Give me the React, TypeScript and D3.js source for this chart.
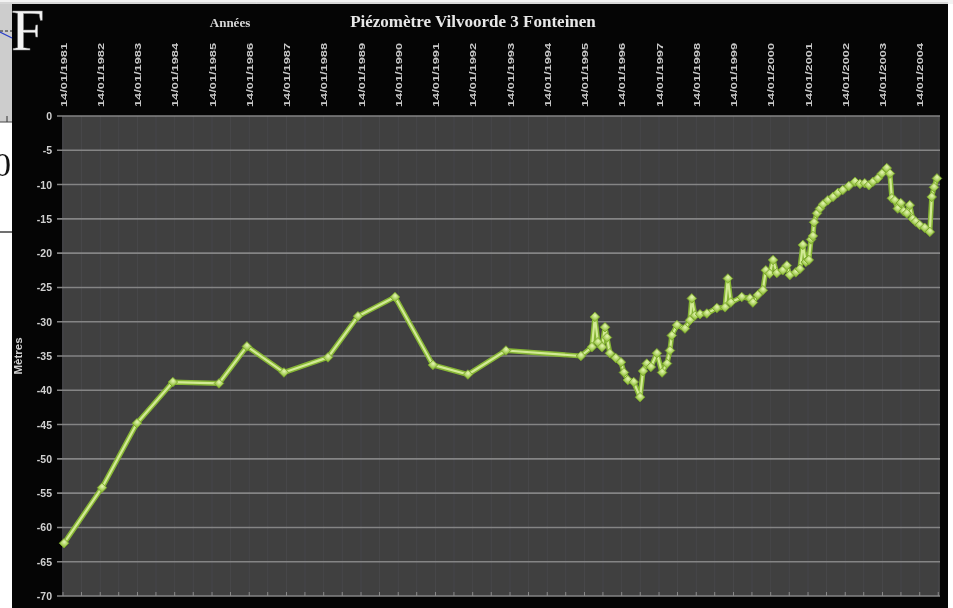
import React from "react";
import * as d3 from "d3";

const titleText = "Piézomètre Vilvoorde 3 Fonteinen";
const xAxisTitle = "Années";
const yAxisTitle = "Mètres";

const yearLabels = [
  "14/01/1981", "14/01/1982", "14/01/1983", "14/01/1984", "14/01/1985", "14/01/1986",
  "14/01/1987", "14/01/1988", "14/01/1989", "14/01/1990", "14/01/1991", "14/01/1992",
  "14/01/1993", "14/01/1994", "14/01/1995", "14/01/1996", "14/01/1997", "14/01/1998",
  "14/01/1999", "14/01/2000", "14/01/2001", "14/01/2002", "14/01/2003", "14/01/2004",
];

const yTicks = [0, -5, -10, -15, -20, -25, -30, -35, -40, -45, -50, -55, -60, -65, -70];

const dates = [
  "1981-01-24", "1982-01-31", "1983-01-09", "1983-12-27", "1985-03-23", "1985-12-22",
  "1986-12-20", "1988-02-25", "1988-12-15", "1989-12-13", "1990-12-20", "1991-11-28",
  "1992-12-05", "1994-12-10", "1995-03-28", "1995-04-26", "1995-05-26", "1995-07-05",
  "1995-08-03", "1995-08-22", "1995-09-20", "1995-11-17", "1996-01-07", "1996-02-05",
  "1996-03-14", "1996-05-11", "1996-07-12", "1996-08-10", "1996-09-16", "1996-10-26",
  "1996-12-24", "1997-02-13", "1997-04-02", "1997-05-01", "1997-05-19", "1997-07-09",
  "1997-09-25", "1997-11-13", "1997-12-01", "1998-01-01", "1998-02-20", "1998-04-28",
  "1998-08-04", "1998-10-23", "1998-11-20", "1998-12-19", "1999-04-05", "1999-06-24",
  "1999-07-23", "1999-09-09", "1999-10-29", "1999-11-27", "2000-01-04", "2000-02-06",
  "2000-03-14", "2000-05-11", "2000-06-20", "2000-07-19", "2000-09-16", "2000-10-26",
  "2000-11-24", "2000-12-23", "2001-01-22", "2001-02-13", "2001-03-03", "2001-03-14",
  "2001-04-12", "2001-05-11", "2001-06-09", "2001-07-27", "2001-09-16", "2001-11-03",
  "2001-12-20", "2002-02-18", "2002-04-20", "2002-06-07", "2002-07-24", "2002-09-02",
  "2002-10-12", "2002-11-29", "2003-01-08", "2003-02-25", "2003-03-28", "2003-04-16",
  "2003-05-15", "2003-06-13", "2003-07-12", "2003-08-10", "2003-09-09", "2003-10-08",
  "2003-11-06", "2003-12-05", "2004-01-14", "2004-03-03", "2004-04-22", "2004-05-11",
  "2004-06-02", "2004-07-01",
];

const levels = [
  -62.3, -54.2, -44.8, -38.8, -39.0, -33.6,
  -37.4, -35.2, -29.2, -26.4, -36.3, -37.7,
  -34.2, -35.0, -33.7, -29.3, -33.0, -33.7,
  -30.8, -32.3, -34.6, -35.3, -35.9, -37.4,
  -38.5, -38.8, -41.0, -37.2, -36.1, -36.6,
  -34.6, -37.4, -36.1, -34.2, -32.0, -30.5,
  -31.0, -29.8, -26.6, -29.1, -28.9, -28.8,
  -28.0, -27.9, -23.7, -27.2, -26.4, -26.6,
  -27.2, -26.1, -25.4, -22.5, -23.0, -21.0,
  -22.9, -22.5, -21.8, -23.2, -22.8, -22.3,
  -18.8, -21.3, -21.0, -18.0, -17.5, -15.5,
  -14.2, -13.5, -12.9, -12.3, -11.8, -11.2,
  -10.8, -10.2, -9.6, -9.9, -9.8, -10.1,
  -9.6, -9.1, -8.4, -7.6, -8.4, -12.0,
  -12.3, -13.5, -12.7, -13.9, -14.2, -13.0,
  -15.0, -15.4, -15.9, -16.3, -16.9, -11.8,
  -10.4, -9.1,
];

export default function App() {
  const W = 953;
  const H = 608;
  const plot = { left: 62, right: 940, top: 116, bottom: 596 };

  const parseISO = d3.timeParse("%Y-%m-%d");
  const parseLabel = d3.timeParse("%d/%m/%Y");

  const x = d3
    .scaleTime()
    .domain([new Date(1981, 0, 4), new Date(2004, 6, 31)])
    .range([plot.left, plot.right]);
  const y = d3.scaleLinear().domain([-70, 0]).range([plot.bottom, plot.top]);

  const data = dates.map((d, i) => ({ date: parseISO(d) as Date, v: levels[i] }));
  const line = d3
    .line<{ date: Date; v: number }>()
    .x((d) => x(d.date))
    .y((d) => y(d.v));
  const pathD = line(data) || "";

  const labelDates = yearLabels.map((s) => parseLabel(s) as Date);
  const minorDates: Date[] = [];
  labelDates.forEach((d) => {
    minorDates.push(d);
    minorDates.push(d3.timeMonth.offset(d, 6));
  });

  const diamond = d3.symbol(d3.symbolSquare, 46)() || "";

  return (
    <svg
      width={W}
      height={H}
      style={{ position: "absolute", left: 0, top: 0, display: "block" }}
    >
      <defs>
        <filter id="soft" x="-5%" y="-5%" width="110%" height="110%">
          <feGaussianBlur stdDeviation="0.6" />
        </filter>
        <radialGradient id="mk" cx="40%" cy="35%" r="65%">
          <stop offset="0%" stopColor="#e6f6b4" />
          <stop offset="100%" stopColor="#97c443" />
        </radialGradient>
      </defs>

      <rect x={0} y={0} width={W} height={H} fill="#ffffff" />
      {/* outer black chart area */}
      <rect x={12} y={4} width={936} height={H - 4} fill="#050505" />

      <g filter="url(#soft)">
        {/* plot area */}
        <rect
          x={plot.left}
          y={plot.top}
          width={plot.right - plot.left}
          height={plot.bottom - plot.top}
          fill="#3f3f41"
        />
        {/* faint vertical lines */}
        {minorDates.map((d, i) => (
          <line
            key={"v" + i}
            x1={x(d)}
            x2={x(d)}
            y1={plot.top}
            y2={plot.bottom}
            stroke="#474749"
            strokeWidth={1}
          />
        ))}
        {/* horizontal grid */}
        {yTicks.map((t) => (
          <line
            key={"g" + t}
            x1={plot.left - 5}
            x2={plot.right}
            y1={y(t)}
            y2={y(t)}
            stroke="#858585"
            strokeWidth={1.6}
          />
        ))}
        {/* minor ticks at bottom */}
        {minorDates.map((d, i) => (
          <line
            key={"m" + i}
            x1={x(d)}
            x2={x(d)}
            y1={plot.bottom}
            y2={plot.bottom - 4}
            stroke="#8a8a8a"
            strokeWidth={1}
          />
        ))}

        {/* y tick labels */}
        {yTicks.map((t) => (
          <text
            key={"yl" + t}
            x={52}
            y={y(t) + 4}
            textAnchor="end"
            fontFamily="Liberation Sans, Arial, sans-serif"
            fontWeight="bold"
            fontSize={10.5}
            fill="#d0d0d0"
          >
            {t}
          </text>
        ))}
        <text
          transform={`translate(22,${356}) rotate(-90)`}
          textAnchor="middle"
          fontFamily="Liberation Sans, Arial, sans-serif"
          fontWeight="bold"
          fontSize={11.5}
          fill="#d0d0d0"
        >
          {yAxisTitle}
        </text>

        {/* x labels at top */}
        {labelDates.map((d, i) => (
          <text
            key={"xl" + i}
            transform={`translate(${x(d) + 3.5},107) rotate(-90)`}
            textAnchor="start"
            fontFamily="Liberation Sans, Arial, sans-serif"
            fontWeight="bold"
            fontSize={9.5}
            textLength={64}
            lengthAdjust="spacingAndGlyphs"
            fill="#c8c8c8"
          >
            {yearLabels[i]}
          </text>
        ))}

        {/* titles */}
        <text
          x={473}
          y={27}
          textAnchor="middle"
          fontFamily="Liberation Serif, Times New Roman, serif"
          fontWeight="bold"
          fontSize={17}
          fill="#e8e8e8"
        >
          {titleText}
        </text>
        <text
          x={230}
          y={27}
          textAnchor="middle"
          fontFamily="Liberation Serif, Times New Roman, serif"
          fontWeight="bold"
          fontSize={13}
          fill="#d8d8d8"
        >
          {xAxisTitle}
        </text>

        {/* series */}
        <path d={pathD} fill="none" stroke="#86b534" strokeWidth={5.2} strokeLinejoin="round" />
        <path d={pathD} fill="none" stroke="#d2ea95" strokeWidth={2.2} strokeLinejoin="round" />
        {data.map((d, i) => (
          <path
            key={"p" + i}
            d={diamond}
            transform={`translate(${x(d.date)},${y(d.v)}) rotate(45)`}
            fill="url(#mk)"
            stroke="#7aa52a"
            strokeWidth={0.8}
          />
        ))}
      </g>

      {/* top-left scanned overlay */}
      <rect x={0} y={0} width={12} height={122} fill="#cdcdcd" />
      <line x1={0} y1={31} x2={12} y2={31} stroke="#222" strokeWidth={1} strokeDasharray="3,2" />
      <line x1={0} y1={32} x2={12} y2={38} stroke="#2a3fc8" strokeWidth={1.2} />
      <line x1={7} y1={116} x2={7} y2={122} stroke="#333" strokeWidth={1} />
      <line x1={0} y1={122} x2={12} y2={122} stroke="#444" strokeWidth={1} />
      <line x1={0} y1={232} x2={12} y2={232} stroke="#111" strokeWidth={1.2} />
      <rect x={0} y={0} width={W} height={4} fill="#f2f2f2" />
      <line x1={0} y1={3} x2={948} y2={3} stroke="#bbbbbb" strokeWidth={1} />
      <svg x={0} y={130} width={12} height={60} overflow="hidden">
        <text
          x={-6}
          y={46}
          fontFamily="Liberation Serif, Times New Roman, serif"
          fontSize={34}
          fill="#111"
        >
          0
        </text>
      </svg>
      <text
        x={11}
        y={50}
        fontFamily="Liberation Serif, Times New Roman, serif"
        fontSize={60}
        fill="#f4f4f4"
        stroke="#888"
        strokeWidth={0.5}
      >
        F
      </text>
    </svg>
  );
}
